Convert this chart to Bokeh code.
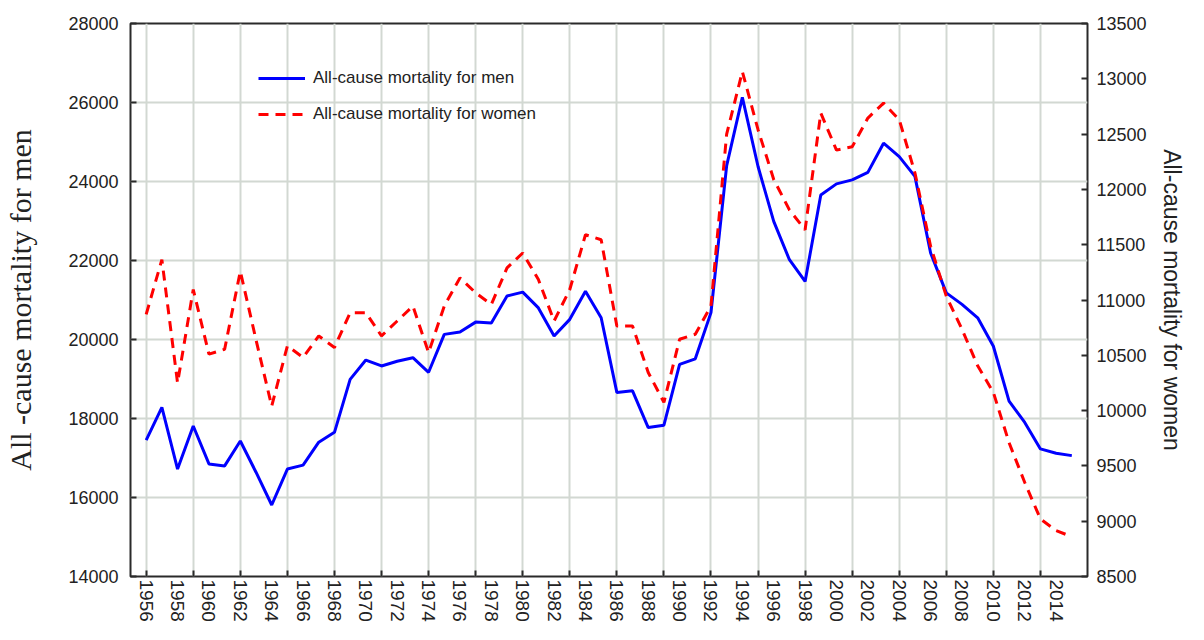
from bokeh.plotting import figure
from bokeh.models import (Range1d, LinearAxis, FixedTicker, Legend, LegendItem)
from bokeh.embed import file_html
from bokeh.resources import INLINE

years = list(range(1956, 2016))
men = [17450, 18280, 16720, 17810, 16850, 16800, 17430, 16640, 15810, 16720,
       16820, 17400, 17650, 18990, 19480, 19330, 19450, 19540, 19170, 20130,
       20190, 20440, 20420, 21100, 21200, 20800, 20090, 20510, 21220, 20550,
       18660, 18700, 17770, 17830, 19370, 19510, 20680, 24400, 26130, 24380,
       22990, 22020, 21470, 23660, 23940, 24040, 24230, 24970, 24630, 24130,
       22190, 21180, 20890, 20550, 19830, 18440, 17900, 17230, 17120, 17060]
women = [10870, 11365, 10250, 11095, 10510, 10555, 11260, 10640, 10040, 10585,
         10480, 10675, 10570, 10885, 10885, 10675, 10810, 10945, 10525, 10945,
         11200, 11065, 10960, 11290, 11425, 11185, 10810, 11095, 11590, 11545,
         10765, 10765, 10345, 10075, 10645, 10690, 10945, 12500, 13065, 12540,
         12090, 11815, 11635, 12690, 12355, 12385, 12645, 12780, 12630, 12150,
         11485, 11035, 10735, 10405, 10165, 9710, 9350, 9020, 8915, 8860]

x_label_ticks = list(range(1956, 2015, 2))
x_grid_ticks = list(range(1956, 2014, 3))
men_ticks = list(range(14000, 28001, 2000))
women_ticks = list(range(8500, 13501, 500))

men_label = "All -cause mortality for men"
women_label = "All-cause mortality for women"
legend_men = "All-cause mortality for men"
legend_women = "All-cause mortality for women"

SANS = "Liberation Sans"
SERIF = "Liberation Serif"
TXT = "#222222"

p = figure(width=1188, height=624, output_backend="svg", toolbar_location=None,
           x_range=Range1d(1955, 2016), y_range=Range1d(14000, 28000),
           min_border_left=130, min_border_right=101, min_border_top=23,
           min_border_bottom=46)
p.extra_y_ranges = {"women": Range1d(8500, 13500)}

p.outline_line_color = "#2a2a2a"
p.outline_line_width = 2
p.background_fill_color = "white"

# bottom axis
xa = p.xaxis[0]
xa.ticker = FixedTicker(ticks=x_label_ticks, minor_ticks=x_grid_ticks)
xa.major_tick_in = 0
xa.major_tick_out = 0
xa.minor_tick_in = 6
xa.minor_tick_out = 0
xa.minor_tick_line_color = "#2a2a2a"
xa.minor_tick_line_width = 2
xa.axis_line_color = None
xa.major_label_orientation = "vertical"
xa.major_label_standoff = 3
xa.major_label_text_font = SANS
xa.major_label_text_font_size = "19px"
xa.major_label_text_color = TXT

# left axis
ya = p.yaxis[0]
ya.ticker = FixedTicker(ticks=men_ticks)
ya.major_tick_in = 6
ya.major_tick_out = 0
ya.major_tick_line_color = "#2a2a2a"
ya.major_tick_line_width = 2
ya.minor_tick_line_color = None
ya.axis_line_color = None
ya.major_label_standoff = 12
ya.major_label_text_font = SANS
ya.major_label_text_font_size = "18px"
ya.major_label_text_color = TXT
ya.axis_label = men_label
ya.axis_label_text_font = SERIF
ya.axis_label_text_font_size = "30px"
ya.axis_label_text_font_style = "normal"
ya.axis_label_text_color = TXT
ya.axis_label_standoff = 28

# right axis
ra = LinearAxis(y_range_name="women", ticker=FixedTicker(ticks=women_ticks))
ra.major_tick_in = 6
ra.major_tick_out = 0
ra.major_tick_line_color = "#2a2a2a"
ra.major_tick_line_width = 2
ra.minor_tick_line_color = None
ra.axis_line_color = None
ra.major_label_standoff = 9
ra.major_label_text_font = SANS
ra.major_label_text_font_size = "18px"
ra.major_label_text_color = TXT
ra.axis_label = women_label
ra.axis_label_orientation = "vertical"
ra.axis_label_text_font = SANS
ra.axis_label_text_font_size = "23px"
ra.axis_label_text_font_style = "normal"
ra.axis_label_text_color = TXT
ra.axis_label_standoff = 9
p.add_layout(ra, "right")

# grids
p.xgrid.ticker = FixedTicker(ticks=x_grid_ticks)
p.xgrid.grid_line_color = "#d2d8d2"
p.xgrid.grid_line_width = 2
p.ygrid.ticker = FixedTicker(ticks=men_ticks)
p.ygrid.grid_line_color = "#d2d8d2"
p.ygrid.grid_line_width = 2

r_men = p.line(years, men, line_color="#0000ff", line_width=3)
r_women = p.line(years, women, line_color="#ff0000", line_width=3,
                 line_dash="10 7", y_range_name="women")

legend = Legend(items=[LegendItem(label=legend_men, renderers=[r_men]),
                       LegendItem(label=legend_women, renderers=[r_women])],
                location=(128, 452))
legend.background_fill_alpha = 0
legend.border_line_color = None
legend.padding = 0
legend.margin = 0
legend.spacing = 16
legend.glyph_width = 47
legend.glyph_height = 20
legend.label_height = 20
legend.label_standoff = 8
legend.label_text_font = SANS
legend.label_text_font_size = "17px"
legend.label_text_color = TXT
p.add_layout(legend, "center")

open("out.html", "w").write(file_html(p, INLINE))
